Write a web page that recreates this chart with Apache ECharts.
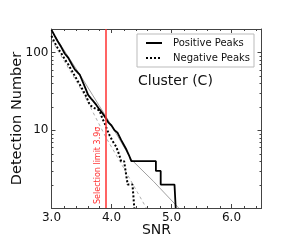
<!DOCTYPE html>
<html>
<head>
<meta charset="utf-8">
<script src="https://cdn.jsdelivr.net/npm/echarts@6/dist/echarts.min.js"></script>
<style>html,body{margin:0;padding:0;background:#fff}#c{width:299px;height:247px}</style>
</head>
<body>
<div id="c"></div>
<script>
// ---- data ----
var posX = [3.00,3.05,3.10,3.16,3.22,3.28,3.34,3.39,3.43,3.47,3.52,3.57,3.61,3.66,3.70,3.75,3.80,3.85,3.90,3.95,4.00,4.05,4.10,4.16,4.20,4.25,4.29,4.33,4.74,4.74,4.82,4.82,5.05,5.07];
var posN = [195,165,140,118,97,85,70,60,56,52,42,34,28.5,25.5,23.5,21,18.5,16.5,14.5,12.5,11.5,10,9.3,7.5,6.6,5.6,4.8,4,4,3,3,2,2,1];
var negX = [3.00,3.05,3.10,3.16,3.22,3.28,3.34,3.40,3.46,3.52,3.58,3.64,3.70,3.76,3.80,3.85,3.88,3.93,3.97,4.02,4.08,4.13,4.16,4.21,4.24,4.27,4.35,4.38];
var negN = [163,135,115,98,82,70,58,48,40,33,27,21,19.5,18.5,18,14,12.6,10,8.5,7.2,6.1,4.8,4,4,2.8,2,2,1];
var fitPosX = [3.0,3.5,4.0,4.33,4.7,5.12];
var fitPosN = [190,48,11.5,4.2,2.2,1];
var fitNegX = [3.0,3.5,3.91,4.2,4.58];
var fitNegN = [145,33,8,3.3,1];
var selectionLimit = 3.9;
var xMinorTicks = [3.2,3.4,3.6,3.8,4.2,4.4,4.6,4.8,5.2,5.4,5.6,5.8,6.2,6.4];
var yMinorTicks = [2,3,4,5,6,7,8,9,20,30,40,50,60,70,80,90];
var yLabels = [10,100];
var xMin = 3.0, xMax = 6.5, yMin = 1, yMax = 200;

function zip(a, b) { return a.map(function (v, i) { return [v, b[i]]; }); }

var FONT = 'DejaVu Sans';
var FRAME = '#444';

var chart = echarts.init(document.getElementById('c'), null, {renderer: 'canvas'});

function tickRender(isX) {
  return function (params, api) {
    var cs = params.coordSys;
    var st = {stroke: FRAME, lineWidth: 1};
    if (isX) {
      var p = api.coord([api.value(0), yMin]);
      var x = Math.round(p[0]) + 0.5;
      return {type: 'group', children: [
        {type: 'line', shape: {x1: x, y1: cs.y + cs.height, x2: x, y2: cs.y + cs.height - 2}, style: st},
        {type: 'line', shape: {x1: x, y1: cs.y, x2: x, y2: cs.y + 2}, style: st}
      ]};
    } else {
      var q = api.coord([xMin, api.value(1)]);
      var y = Math.round(q[1]) + 0.5;
      return {type: 'group', children: [
        {type: 'line', shape: {x1: cs.x, y1: y, x2: cs.x + 2, y2: y}, style: st},
        {type: 'line', shape: {x1: cs.x + cs.width, y1: y, x2: cs.x + cs.width - 2, y2: y}, style: st}
      ]};
    }
  };
}

var axisCommonX = {
  type: 'value', min: xMin, max: xMax, interval: 1,
  axisLine: {show: true, onZero: false, lineStyle: {color: FRAME, width: 1}},
  axisTick: {show: true, inside: true, length: 4, lineStyle: {color: FRAME}},
  splitLine: {show: false}
};
var axisCommonY = {
  type: 'log', min: yMin, max: yMax, logBase: 10,
  axisLine: {show: true, onZero: false, lineStyle: {color: FRAME, width: 1}},
  axisTick: {show: true, inside: true, length: 4, lineStyle: {color: FRAME}},
  splitLine: {show: false}
};

var option = {
  animation: false,
  backgroundColor: '#fff',
  grid: {left: 51.5, top: 29, right: 37.5, bottom: 39, containLabel: false, outerBoundsMode: 'none'},
  title: {
    text: 'Cluster (C)', left: 138, top: 74, padding: 0,
    textStyle: {fontFamily: FONT, fontSize: 14, fontWeight: 'normal', color: '#111'}
  },
  legend: {
    data: ['Positive Peaks', 'Negative Peaks'],
    orient: 'vertical', left: 137, top: 34,
    padding: [4, 4, 4, 8], itemGap: 5, itemWidth: 16, itemHeight: 10,
    borderColor: '#bbb', borderWidth: 1, borderRadius: 0,
    backgroundColor: '#fff',
    itemStyle: {opacity: 0},
    textStyle: {fontFamily: FONT, fontSize: 10, color: '#111', padding: [0, 0, 0, 6]}
  },
  xAxis: [
    Object.assign({}, axisCommonX, {
      position: 'bottom',
      name: 'SNR', nameLocation: 'middle', nameGap: 15, nameMoveOverlap: false,
      nameTextStyle: {fontFamily: FONT, fontSize: 14, color: '#111'},
      axisLabel: {
        fontFamily: FONT, fontSize: 12, color: '#111', margin: 4,
        formatter: function (v) { return Math.abs(v - Math.round(v)) < 1e-6 ? v.toFixed(1) : ''; }
      }
    }),
    Object.assign({}, axisCommonX, {position: 'top', axisLabel: {show: false}})
  ],
  yAxis: [
    Object.assign({}, axisCommonY, {
      position: 'left',
      name: 'Detection Number', nameLocation: 'middle', nameGap: 26.5, nameMoveOverlap: false,
      nameTextStyle: {fontFamily: FONT, fontSize: 14.5, color: '#111'},
      axisLabel: {
        fontFamily: FONT, fontSize: 12, color: '#111', margin: 3,
        formatter: function (v) { var r = Math.round(v); return yLabels.indexOf(r) >= 0 ? String(r) : ''; }
      }
    }),
    Object.assign({}, axisCommonY, {position: 'right', axisLabel: {show: false}})
  ],
  series: [
    {
      name: 'fitPos', type: 'line', data: zip(fitPosX, fitPosN), symbol: 'none', silent: true,
      lineStyle: {color: '#888', width: 0.8, type: 'solid'}, z: 2
    },
    {
      name: 'fitNeg', type: 'line', data: zip(fitNegX, fitNegN), symbol: 'none', silent: true,
      lineStyle: {color: '#999', width: 0.8, type: [3, 3]}, z: 2
    },
    {
      name: 'Negative Peaks', type: 'line', data: zip(negX, negN), symbol: 'none',
      itemStyle: {color: '#000'},
      lineStyle: {color: '#000', width: 2, type: [2, 2]}, z: 3
    },
    {
      name: 'Positive Peaks', type: 'line', data: zip(posX, posN), symbol: 'none',
      itemStyle: {color: '#000'},
      lineStyle: {color: '#000', width: 1.8, type: 'solid'}, z: 4,
      markLine: {
        silent: true, symbol: 'none',
        lineStyle: {color: '#ff3030', width: 1.5, type: 'solid'},
        label: {
          show: true, position: 'insideStartTop', distance: 4,
          formatter: 'Selection limit 3.9σ',
          fontFamily: FONT, fontSize: 8, color: '#ff3030'
        },
        data: [{xAxis: selectionLimit}]
      }
    },
    {
      name: 'xMinor', type: 'custom', silent: true, clip: false,
      data: xMinorTicks.map(function (v) { return [v, yMin]; }),
      encode: {x: 0, y: 1}, renderItem: tickRender(true), z: 5
    },
    {
      name: 'yMinor', type: 'custom', silent: true, clip: false,
      data: yMinorTicks.map(function (v) { return [xMin, v]; }),
      encode: {x: 0, y: 1}, renderItem: tickRender(false), z: 5
    }
  ]
};
chart.setOption(option);
</script>
</body>
</html>
